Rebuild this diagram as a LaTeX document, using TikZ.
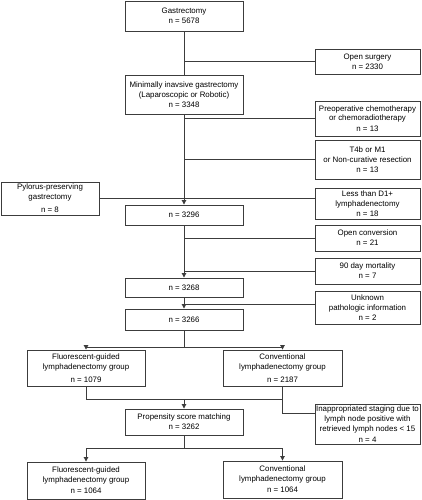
\documentclass[tikz,border=0pt]{standalone}
\usepackage{fontspec}
\setmainfont{Liberation Sans}
\usetikzlibrary{arrows.meta,calc}
\begin{document}
\begin{tikzpicture}[x=1pt,y=-1pt,
  box/.style={draw=linegray, line width=0.9pt, inner sep=0pt, align=center,
    font=\fontsize{7.9}{9.8}\selectfont, text=black},
  conn/.style={draw=linegray, line width=0.9pt},
  arr/.style={conn, -{Triangle[width=4.5pt,length=4.5pt]}}]
\definecolor{linegray}{HTML}{3C3C3C}
\useasboundingbox (0,0) rectangle (421,500);
% main column
\node[box, minimum width=118, minimum height=30] (g) at (184,16) {Gastrectomy\\n = 5678};
\node[box, minimum width=118, minimum height=39] (mig) at (184,94.5) {Minimally inavsive gastrectomy\\(Laparoscopic or Robotic)\\n = 3348};
\node[box, minimum width=118, minimum height=20] (a) at (184,215) {n = 3296};
\node[box, minimum width=118, minimum height=19] (b) at (184,287.5) {n = 3268};
\node[box, minimum width=118, minimum height=21] (c) at (184,319.5) {n = 3266};
\node[box, minimum width=118, minimum height=36] (fg1) at (86,368) {Fluorescent-guided\\lymphadenectomy group\\[3.5pt]n = 1079};
\node[box, minimum width=119, minimum height=36] (cv1) at (282.5,368) {Conventional\\lymphadenectomy group\\[3.5pt]n = 2187};
\node[box, minimum width=118, minimum height=26] (psm) at (184,422) {Propensity score matching\\n = 3262};
\node[box, minimum width=118, minimum height=37] (fg2) at (86,480.5) {Fluorescent-guided\\lymphadenectomy group\\[1.5pt]n = 1064};
\node[box, minimum width=119, minimum height=37] (cv2) at (282.5,479.5) {Conventional\\lymphadenectomy group\\[1.5pt]n = 1064};
% side boxes
\node[box, minimum width=105, minimum height=25] (os) at (367.5,61.5) {Open surgery\\n = 2330};
\node[box, minimum width=105, minimum height=35] (pre) at (367.5,118.5) {Preoperative chemotherapy\\or chemoradiotherapy\\[1pt]n = 13};
\node[box, minimum width=105, minimum height=39] (t4) at (367.5,159.5) {T4b or M1\\or Non-curative resection\\n = 13};
\node[box, minimum width=98, minimum height=33] (py) at (50,198.5) {Pylorus-preserving\\gastrectomy\\[3.5pt]n = 8};
\node[box, minimum width=105, minimum height=31] (ld) at (367.5,203.5) {Less than D1+\\lymphadenectomy\\n = 18};
\node[box, minimum width=105, minimum height=26] (oc) at (367.5,238) {Open conversion\\n = 21};
\node[box, minimum width=105, minimum height=26] (mo) at (367.5,271) {90 day mortality\\n = 7};
\node[box, minimum width=105, minimum height=33] (un) at (367.5,307.5) {Unknown\\pathologic information\\n = 2};
\node[box, minimum width=105, minimum height=40] (in) at (367.5,424) {Inappropriated staging due to\\lymph node positive with\\retrieved lymph nodes < 15\\[1.5pt]n = 4};
% main flow
\draw[conn] (g.south) -- (mig.north);
\draw[arr] (mig.south) -- (a.north);
\draw[arr] (a.south) -- (b.north);
\draw[arr] (b.south) -- (c.north);
% exclusions
\draw[conn] (os.west) -- (os.west -| g.south);
\draw[conn] (pre.west) -- (pre.west -| g.south);
\draw[conn] (t4.west) -- (t4.west -| g.south);
\draw[conn] (py.east) -- (py.east -| ld.west);
\draw[conn] (oc.west) -- (oc.west -| g.south);
\draw[conn] (mo.west) -- (mo.west -| g.south);
\draw[conn] ([yshift=3.5pt]un.west) -- ([yshift=3.5pt]un.west -| g.south);
% split to groups
\coordinate (s1) at ($(c.south)+(0,16.5)$);
\draw[conn] (c.south) -- (s1);
\draw[arr] (s1) -| (fg1.north);
\draw[arr] (s1) -| (cv1.north);
% join
\coordinate (j1) at ($(fg1.south)+(0,13)$);
\draw[conn] (fg1.south) -- (j1) -- (j1 -| cv1.south) -- (cv1.south);
\draw[arr] (j1 -| psm.north) -- (psm.north);
\draw[conn] (j1 -| cv1.south) |- ([yshift=11pt]in.west);
% split to final groups
\coordinate (s2) at ($(psm.south)+(0,13)$);
\draw[conn] (psm.south) -- (s2);
\draw[arr] (s2) -| (fg2.north);
\draw[arr] (s2) -| (cv2.north);
\end{tikzpicture}
\end{document}
